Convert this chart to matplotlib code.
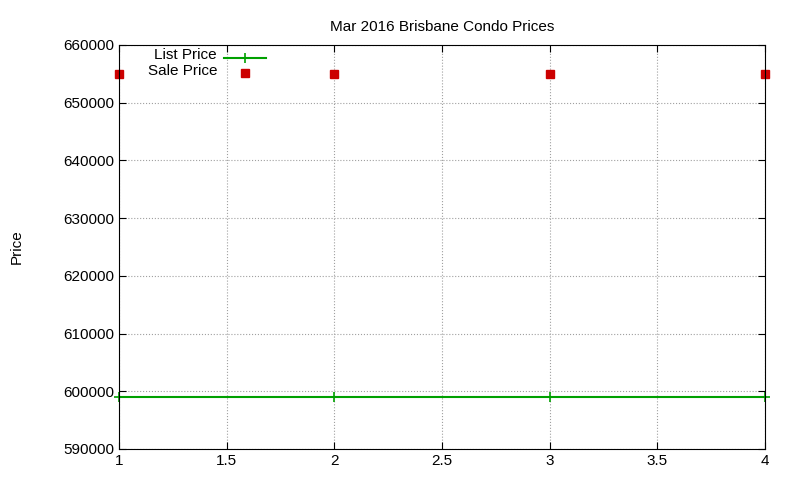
import matplotlib
matplotlib.use("Agg")
import matplotlib.pyplot as plt

x = [1, 2, 3, 4]
list_price = [599000, 599000, 599000, 599000]
sale_price = [655000, 655000, 655000, 655000]
xticks = [1, 1.5, 2, 2.5, 3, 3.5, 4]
yticks = [590000, 600000, 610000, 620000, 630000, 640000, 650000, 660000]

plt.rcParams['font.family'] = ['Liberation Sans', 'DejaVu Sans']
fig = plt.figure(figsize=(8, 4.8), dpi=100)
ax = fig.add_axes([119/800, 1-449/480, (765-119)/800, (449-45)/480])
ax.plot(x, list_price, color='#00a000', lw=1.5, marker='+', ms=7, mew=1.2, clip_on=False)
ax.plot(x, sale_price, ls='none', marker='s', color='#cc0000', ms=6, clip_on=False)
ax.set_xlim(1, 4)
ax.set_ylim(590000, 660000)
ax.set_xticks(xticks)
ax.set_xticklabels([f"{t:g}" for t in xticks])
ax.set_yticks(yticks)
ax.tick_params(direction='in', labelsize=11, length=5, top=True, right=True)
ax.grid(True, color='#a0a0a0', ls=':', lw=0.8)
ax.set_title("Mar 2016 Brisbane Condo Prices", fontsize=11, pad=10)
ax.set_ylabel("Price", fontsize=11, labelpad=28)
# custom gnuplot-style legend
fig.text(217/800, 1-55/480, "List Price", ha='right', va='center', fontsize=11)
fig.text(217/800, 1-71/480, "Sale Price", ha='right', va='center', fontsize=11)
ax.plot([1.488, 1.683], [657800, 657800], color='#00a000', lw=1.5, clip_on=False)
ax.plot([1.585], [657800], marker='+', color='#00a000', ms=7, mew=1.2, clip_on=False)
ax.plot([1.585], [655200], marker='s', color='#cc0000', ms=6, ls='none', clip_on=False)
fig.savefig("out.png")
